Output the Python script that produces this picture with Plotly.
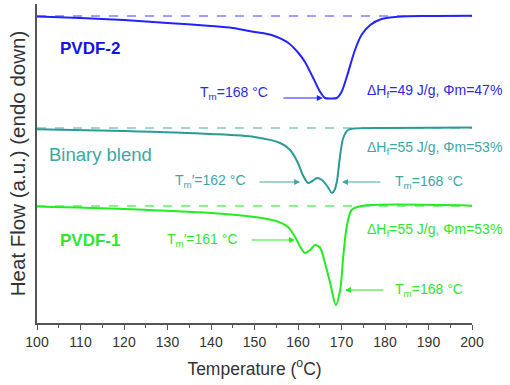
import plotly.graph_objects as go

# ---------------- data (Heat flow, arbitrary units, curves offset vertically) ----------------
temp_pvdf2 = [100, 110, 120, 130, 140, 145, 150, 153.9, 157.8, 160.1, 161.6, 163.5, 165.1, 166.2,
              167.5, 168.9, 170, 171.2, 173.1, 174.6, 176.6, 179.2, 183.1, 190, 200]
hf_pvdf2 = [306.5, 305, 303, 300, 297, 295, 291, 288, 280, 270, 261, 245, 231, 225,
            224.5, 225, 231, 246, 273, 288, 298, 304, 306.3, 307, 307.2]

temp_blend = [100, 120, 140, 150, 155.9, 158.2, 160, 161.1, 162.3, 163.3, 164.4, 165.5, 166.7,
              167.8, 168.5, 169, 169.7, 170.4, 171.5, 173, 180, 200]
hf_blend = [193.7, 192, 189, 186, 180, 173, 160, 148, 140, 142, 145, 143, 137,
            130, 134, 143, 168, 185, 193, 194.5, 195, 195.5]

temp_pvdf1 = [100, 120, 140, 150, 155, 157.7, 159.3, 160.5, 161.6, 162.8, 163.9, 165.1, 166.2,
              167.4, 168.7, 169.7, 170.4, 171.2, 172.3, 174.6, 200]
hf_pvdf1 = [116.5, 114, 110, 106, 102, 96, 86.3, 76.3, 70, 73, 78, 75, 60,
            40, 18, 33, 66.3, 96.3, 113, 117, 117.3]

baseline_pvdf2 = 307
baseline_blend = 195
baseline_pvdf1 = 117

x_ticks = [100, 110, 120, 130, 140, 150, 160, 170, 180, 190, 200]

BLUE = "#2323ff"
BLUE_TXT = "#2b2be6"
TEAL = "#2a9b97"
TEAL_TXT = "#3ea7a5"
GREEN = "#22ec22"
GREEN_TXT = "#33e433"

fig = go.Figure()

# dashed baselines
for base, col in [(baseline_pvdf2, "#8080ff"), (baseline_blend, "#86c6c4"), (baseline_pvdf1, "#66ee66")]:
    fig.add_trace(go.Scatter(x=[100, 200], y=[base, base], mode="lines",
                             line=dict(color=col, width=1.3, dash="dash"),
                             hoverinfo="skip", showlegend=False))

for tx, hy, col in [(temp_pvdf2, hf_pvdf2, BLUE), (temp_blend, hf_blend, TEAL), (temp_pvdf1, hf_pvdf1, GREEN)]:
    fig.add_trace(go.Scatter(x=tx, y=hy, mode="lines",
                             line=dict(color=col, width=2, shape="spline", smoothing=0.8),
                             showlegend=False))

FONT = "Liberation Sans, Arial, sans-serif"

def txt(x, y, text, color, anchor="left", size=14, bold=False):
    if bold:
        text = "<b>" + text + "</b>"
    fig.add_annotation(x=x, y=y, xref="x", yref="y", text=text, showarrow=False,
                       xanchor=anchor, yanchor="middle",
                       font=dict(family=FONT, size=size, color=color))

def arrow(x0, x1, y, color):
    fig.add_annotation(x=x1, y=y, ax=x0, ay=y, xref="x", yref="y", axref="x", ayref="y",
                       text="", showarrow=True, arrowhead=2, arrowsize=1, arrowwidth=1.2,
                       arrowcolor=color, standoff=0, startstandoff=0)

# PVDF-2
txt(104.8, 275, "PVDF-2", "#1414e0", size=17, bold=True)
txt(153.6, 230, "T<sub>m</sub>=168 °C", BLUE_TXT, anchor="right")
arrow(156.3, 165.7, 225, BLUE)
txt(175.4, 232, "ΔH<sub>f</sub>=49 J/g, Φm=47%", BLUE_TXT)

# Binary blend
txt(102.2, 169, "Binary blend", TEAL_TXT, size=18.5)
txt(148.5, 142, "T<sub>m</sub>′=162 °C", TEAL_TXT, anchor="right")
arrow(150.8, 160.5, 141, TEAL_TXT)
txt(175.4, 175, "ΔH<sub>f</sub>=55 J/g, Φm=53%", TEAL_TXT)
txt(181.8, 141, "T<sub>m</sub>=168 °C", TEAL_TXT)
arrow(179.3, 170.1, 141, TEAL_TXT)

# PVDF-1
txt(104.9, 83, "PVDF-1", GREEN_TXT, size=17, bold=True)
txt(146.7, 83, "T<sub>m</sub>′=161 °C", GREEN_TXT, anchor="right")
arrow(149.0, 159.3, 83, GREEN)
txt(175.4, 93, "ΔH<sub>f</sub>=55 J/g, Φm=53%", GREEN_TXT)
txt(181.8, 33, "T<sub>m</sub>=168 °C", GREEN_TXT)
arrow(180.0, 170.8, 33, GREEN)

fig.update_layout(
    width=510, height=385,
    margin=dict(l=37, r=38, t=4, b=62),
    paper_bgcolor="white", plot_bgcolor="white",
    font=dict(family=FONT, color="#333333"),
    xaxis=dict(range=[100, 200], tickmode="array", tickvals=x_ticks,
               ticks="outside", ticklen=5, tickwidth=1.2, tickcolor="#555555",
               minor=dict(dtick=5, ticks="outside", ticklen=3, tickwidth=1, tickcolor="#555555"),
               showline=True, linecolor="#555555", linewidth=1.5,
               showgrid=False, zeroline=False,
               tickfont=dict(size=14, color="#333333"),
               title=dict(text="Temperature (<sup>o</sup>C)", font=dict(size=17.5, color="#333333"), standoff=14)),
    yaxis=dict(range=[0, 319], showticklabels=False, ticks="",
               showline=True, linecolor="#555555", linewidth=1.5,
               showgrid=False, zeroline=False,
               title=dict(text="Heat Flow (a.u.) (endo down)", font=dict(size=20.5, color="#333333"), standoff=4)),
)

fig.write_html("out.html")
